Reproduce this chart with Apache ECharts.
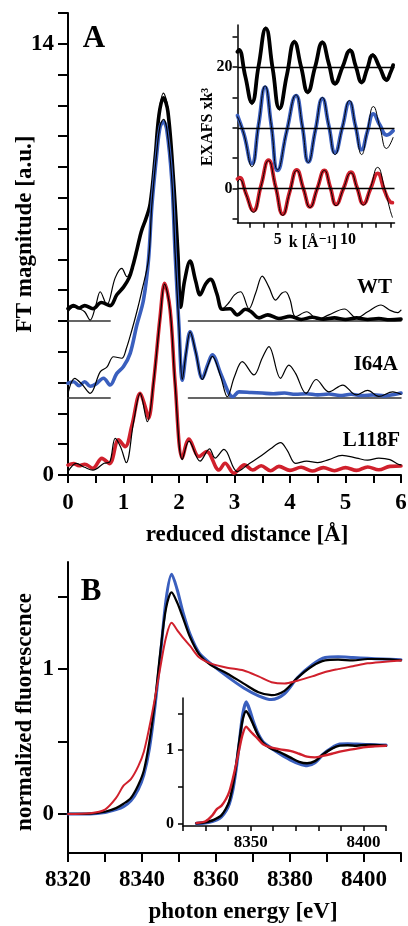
<!DOCTYPE html>
<html><head><meta charset="utf-8">
<script src="https://cdn.jsdelivr.net/npm/echarts@6/dist/echarts.min.js"></script>
<style>html,body{margin:0;padding:0;background:#fff}#c{width:408px;height:926px}</style>
</head><body><div id="c"></div><script>
// ---------- Panel A: FT magnitude vs reduced distance ----------
const ftWtFitR = [0,0.1,0.2,0.3,0.45,0.6,0.76,0.88,1.0,1.1,1.17,1.24,1.32,1.4,1.48,1.57,1.64,1.72,1.8,1.9,1.98,2.03,2.1,2.2,2.3,2.38,2.48,2.57,2.68,2.78,2.92,3.05,3.2,3.3,3.44,3.6,3.8,4.0,4.2,4.4,4.6,4.8,5.0,5.2,5.4,5.6,5.8,6.0];
const ftWtFitV = [5.4,5.5,5.42,5.5,5.4,5.6,5.5,5.85,6.1,6.4,6.8,7.3,7.9,8.3,8.8,10.3,11.7,12.25,11.8,9.6,7.2,5.45,6.3,6.95,6.3,5.85,6.2,6.35,5.9,5.38,5.4,5.2,5.38,5.3,5.1,5.2,5.08,5.15,5.05,5.12,5.06,5.1,5.05,5.1,5.05,5.08,5.04,5.06];
const ftWtExpR = [0,0.1,0.2,0.3,0.4,0.5,0.58,0.7,0.85,0.97,1.06,1.15,1.24,1.32,1.4,1.48,1.57,1.64,1.72,1.8,1.9,1.98,2.03,2.1,2.2,2.3,2.38,2.48,2.57,2.68,2.78,2.9,3.0,3.11,3.26,3.38,3.5,3.62,3.74,3.85,3.92,4.0,4.1,4.3,4.5,4.7,4.98,5.2,5.4,5.64,5.8,5.94,6.0];
const ftWtExpV = [5.3,5.45,5.4,5.3,5.03,5.5,5.95,5.52,6.4,6.71,6.44,6.7,7.3,7.9,8.3,8.9,10.4,11.8,12.4,11.9,9.6,7.2,5.4,6.3,6.95,6.3,5.85,6.2,6.35,5.9,5.4,5.6,5.85,5.95,5.4,5.9,6.46,6.1,5.68,5.9,5.95,5.7,5.14,5.3,5.05,5.2,5.39,5.1,5.3,5.52,5.35,5.27,5.35];
const ftI64aFitR = [0,0.1,0.2,0.3,0.4,0.5,0.64,0.76,0.88,1.0,1.12,1.24,1.36,1.45,1.51,1.6,1.66,1.72,1.78,1.87,1.93,2.0,2.06,2.13,2.2,2.3,2.42,2.52,2.6,2.75,2.9,2.97,3.08,3.3,3.5,3.7,3.9,4.1,4.3,4.5,4.7,4.9,5.1,5.3,5.5,5.7,5.9,6.0];
const ftI64aFitV = [2.98,3.03,2.9,3.03,2.88,2.95,3.14,2.92,3.3,3.52,3.95,4.87,5.68,6.98,8.71,10.44,11.3,11.47,11.2,9.58,7.2,4.8,3.08,4.0,4.65,4.0,3.14,3.6,3.9,3.3,2.65,2.54,2.7,2.68,2.66,2.64,2.66,2.62,2.64,2.6,2.63,2.58,2.62,2.58,2.6,2.57,2.62,2.66];
const ftI64aExpR = [0,0.12,0.25,0.4,0.58,0.7,0.82,0.97,1.05,1.15,1.24,1.32,1.45,1.51,1.6,1.66,1.72,1.78,1.87,1.93,2.0,2.06,2.13,2.2,2.3,2.42,2.52,2.6,2.75,2.87,3.0,3.14,3.35,3.5,3.62,3.83,3.98,4.1,4.29,4.47,4.7,4.95,5.19,5.4,5.6,5.85,6.0];
const ftI64aExpV = [2.65,3.14,2.95,2.65,3.35,3.5,3.84,3.79,4.1,4.7,5.3,5.9,7.0,8.75,10.5,11.35,11.55,11.25,9.6,7.2,4.8,3.1,4.0,4.65,4.0,3.1,3.55,3.85,3.2,2.54,3.2,3.68,3.25,3.8,4.17,3.14,3.57,3.3,2.65,3.1,2.7,2.92,2.6,2.75,2.55,2.7,2.62];
const ftL118fFitR = [0,0.1,0.2,0.3,0.45,0.61,0.75,0.91,1.03,1.15,1.3,1.39,1.45,1.54,1.66,1.74,1.84,1.93,2.06,2.18,2.36,2.5,2.72,2.83,2.99,3.18,3.33,3.48,3.65,3.8,4.0,4.2,4.4,4.6,4.8,5.0,5.2,5.4,5.6,5.8,6.0];
const ftL118fFitV = [0.32,0.37,0.3,0.35,0.22,0.54,0.37,1.14,0.92,1.6,2.65,2.22,1.84,2.98,5.14,6.22,5.36,2.98,0.55,1.17,0.6,0.76,0.16,0.38,0.06,0.33,0.16,0.3,0.14,0.28,0.15,0.25,0.13,0.24,0.14,0.24,0.15,0.26,0.17,0.28,0.29];
const ftL118fExpR = [0,0.15,0.3,0.45,0.65,0.75,0.85,0.95,1.05,1.18,1.3,1.43,1.54,1.66,1.74,1.84,1.93,2.06,2.18,2.38,2.55,2.65,2.81,3.05,3.25,3.46,3.65,3.83,3.95,4.1,4.3,4.5,4.7,4.94,5.2,5.4,5.6,5.8,5.95,6.0];
const ftL118fExpV = [0.11,0.38,0.25,0.16,0.38,0.42,1.19,0.9,0.4,1.7,2.65,1.73,3.0,5.1,6.2,5.35,2.95,0.5,1.1,0.45,0.85,0.55,0.83,0.11,0.35,0.6,0.85,1.05,0.8,0.38,0.45,0.4,0.5,0.64,0.55,0.48,0.55,0.5,0.35,0.33];
const ftBaselineLevels = [5, 2.5];
const ftBaselineSpans = [[0, 0.76], [2.17, 6]];
const ftTickR = [0,0.5,1,1.5,2,2.5,3,3.5,4,4.5,5,5.5,6];
const ftLabelR = [0,1,2,3,4,5,6];
const ftTickV = [0,1,2,3,4,5,6,7,8,9,10,11,12,13,14,15];
const ftLabelV = [0,14];
const ftSampleNames = ['WT','I64A','L118F'];

// ---------- Panel A inset: EXAFS x k^3 ----------
const exWtK = [2.15,2.25,2.7,3.17,3.65,4.16,4.65,5.13,5.66,6.19,6.67,7.14,7.66,8.18,8.63,9.08,9.61,10.14,10.55,10.97,11.36,11.75,12.25,12.74,13.0,13.2];
const exWtFitV = [22.5,22.8,18.5,14.2,20.2,26.3,19.7,13.2,18.7,24.1,20.0,15.9,20.0,24.0,20.6,17.3,20.0,22.7,20.1,17.5,19.7,21.9,19.9,17.9,19.0,20.3];
const exWtExpV = [22.7,23.0,18.5,13.8,20.2,26.6,19.7,12.9,18.7,24.4,20.0,15.6,20.0,24.3,20.6,17.0,20.0,23.0,20.1,17.2,19.7,22.2,19.9,17.6,19.0,20.3];
const exI64aK = [2.15,2.6,3.17,3.64,4.11,4.55,5.0,5.65,6.31,6.75,7.18,7.68,8.18,8.63,9.08,9.59,10.1,10.53,10.97,11.38,11.8,12.27,12.74,13.2];
const exI64aFitV = [12.0,9.0,4.1,10.4,16.7,10.4,3.0,9.5,15.3,10.3,4.4,9.6,14.8,10.4,5.9,10.0,14.2,10.3,6.4,9.4,12.3,10.4,8.8,9.5];
const exI64aExpV = [11.8,9.0,3.6,10.4,16.9,10.4,3.1,9.5,15.4,10.3,4.3,9.6,15.0,10.4,5.6,10.0,14.5,10.3,5.6,9.6,13.5,10.0,6.6,8.4];
const exL118fK = [2.15,2.3,2.75,3.28,3.82,4.35,4.86,5.37,5.86,6.36,6.83,7.3,7.81,8.32,8.74,9.15,9.67,10.2,10.65,11.09,11.6,12.1,12.6,13.0,13.15];
const exL118fFitV = [1.6,1.8,-0.8,-3.6,0.5,4.7,0.3,-4.2,-0.5,3.1,0.0,-3.0,0.0,3.0,0.2,-2.6,0.0,2.7,0.1,-2.5,0.0,2.5,-0.4,-2.2,-2.3];
const exL118fExpV = [1.1,1.5,-0.9,-3.9,0.4,4.6,0.2,-4.4,-0.6,3.0,0.0,-3.1,0.0,3.0,0.1,-2.8,0.0,2.6,0.0,-2.7,0.2,3.5,0.0,-3.6,-4.7];
const exRefLevels = [0, 10, 20];
const exTickK = [3,4,5,6,7,8,9,10,11,12,13];
const exLabelK = [5,10];
const exTickV = [-5,0,5,10,15,20,25];
const exLabelV = [0,20];

// ---------- Panel B: XANES ----------
const xanesE = [8320,8326,8330,8333,8335,8337,8339,8340.5,8342,8343.5,8345,8346.5,8348,8349.5,8351,8353,8355.5,8358.5,8363,8367.5,8371.5,8375,8378.5,8382,8386,8389.5,8393,8397,8401,8405,8410];
const xanesWT   = [0,0.002,0.015,0.04,0.07,0.11,0.2,0.3,0.5,0.78,1.13,1.42,1.53,1.46,1.36,1.22,1.1,1.03,0.97,0.9,0.84,0.82,0.85,0.94,1.02,1.06,1.065,1.06,1.07,1.07,1.06];
const xanesI64A = [0,0,0.01,0.03,0.05,0.09,0.17,0.27,0.45,0.74,1.1,1.48,1.655,1.55,1.4,1.24,1.11,1.04,0.95,0.87,0.816,0.79,0.83,0.94,1.03,1.08,1.085,1.08,1.075,1.07,1.065];
const xanesL118F= [0,0.005,0.03,0.11,0.195,0.24,0.33,0.43,0.6,0.8,1.02,1.22,1.32,1.27,1.22,1.16,1.08,1.04,1.01,0.99,0.95,0.91,0.9,0.92,0.95,0.98,1.0,1.02,1.04,1.05,1.06];
const xanesTickE = [8320,8330,8340,8350,8360,8370,8380,8390,8400,8410];
const xanesLabelE = [8320,8340,8360,8380,8400];
const xanesInsetLabelE = [8350,8400];
const xanesTickV = [0,0.5,1,1.5];
const xanesLabelV = [0,1];
const xanesInsetStartE = 8326;

// ---------- styling ----------
const FF = "'Liberation Serif','DejaVu Serif',serif";
const BLACK = '#000000', BLUE = '#3a5fbe', RED = '#d0202c';

function pts(xs, ys) { const n = Math.min(xs.length, ys.length); const o = []; for (let i = 0; i < n; i++) o.push([xs[i], ys[i]]); return o; }
function line(gi, data, color, width, smooth) {
  return { type: 'line', xAxisIndex: gi, yAxisIndex: gi, data, symbol: 'none', showSymbol: false,
    smooth: smooth == null ? 0.35 : smooth, silent: true, animation: false, emphasis: { disabled: true },
    lineStyle: { color, width, cap: 'round', join: 'round' } };
}
function axis(gi, min, max, ticks, labels, o) {
  return { type: 'value', gridIndex: gi, min, max, scale: false,
    axisLine: { show: true, onZero: false, lineStyle: { color: BLACK, width: o.lw } },
    axisTick: { show: true, inside: false, customValues: ticks, length: o.tl, lineStyle: { color: BLACK, width: o.lw } },
    axisLabel: { show: true, customValues: labels, formatter: v => String(v), fontSize: o.fs, fontWeight: 'bold', fontFamily: FF, color: BLACK, margin: o.m },
    splitLine: { show: false }, minorTick: { show: false } };
}
function txt(x, y, text, fs, rot, align) {
  return { type: 'text', x, y, rotation: rot || 0, silent: true,
    style: { text, fontSize: fs, fontWeight: 'bold', fontFamily: FF, fill: BLACK, align: align || 'center', verticalAlign: 'middle' } };
}

const series = [];
ftBaselineLevels.forEach(lv => ftBaselineSpans.forEach(sp => {
  series.push(line(0, [[sp[0], lv], [sp[1], lv]], '#333', 1.5, false));
}));
series.push(line(0, pts(ftWtFitR, ftWtFitV), BLACK, 3.6));
series.push(line(0, pts(ftWtExpR, ftWtExpV), BLACK, 1.2));
series.push(line(0, pts(ftI64aFitR, ftI64aFitV), BLUE, 3.6));
series.push(line(0, pts(ftI64aExpR, ftI64aExpV), BLACK, 1.2));
series.push(line(0, pts(ftL118fFitR, ftL118fFitV), RED, 3.6));
series.push(line(0, pts(ftL118fExpR, ftL118fExpV), BLACK, 1.2));
const exRef = line(1, [], BLACK, 1);
exRef.markLine = { silent: true, symbol: ['none', 'none'], label: { show: false }, animation: false,
  lineStyle: { color: BLACK, width: 1.3, type: 'solid' }, data: exRefLevels.map(v => ({ yAxis: v })) };
series.push(exRef);
series.push(line(1, pts(exWtK, exWtFitV), BLACK, 3.8, 0.5));
series.push(line(1, pts(exWtK, exWtExpV), BLACK, 1, 0.5));
series.push(line(1, pts(exI64aK, exI64aFitV), BLUE, 3.8, 0.5));
series.push(line(1, pts(exI64aK, exI64aExpV), BLACK, 1, 0.5));
series.push(line(1, pts(exL118fK, exL118fFitV), RED, 3.8, 0.5));
series.push(line(1, pts(exL118fK, exL118fExpV), BLACK, 1, 0.5));
series.push(line(2, pts(xanesE, xanesI64A), BLUE, 3, 0.3));
series.push(line(2, pts(xanesE, xanesWT), BLACK, 2.2, 0.3));
series.push(line(2, pts(xanesE, xanesL118F), RED, 2, 0.3));
const insetIdx = xanesE.map((e, i) => i).filter(i => xanesE[i] >= xanesInsetStartE);
const sub = (arr) => insetIdx.map(i => arr[i]);
series.push(line(3, pts(sub(xanesE), sub(xanesI64A)), BLUE, 3.4, 0.3));
series.push(line(3, pts(sub(xanesE), sub(xanesWT)), BLACK, 2.4, 0.3));
series.push(line(3, pts(sub(xanesE), sub(xanesL118F)), RED, 2.4, 0.3));

const main = { lw: 2, tl: 9, fs: 23, m: 14 };
const ins = { lw: 1.5, tl: 5, fs: 16, m: 7 };

const option = {
  backgroundColor: '#fff', animation: false,
  grid: [
    { left: 68, top: 13, width: 333, height: 462, containLabel: false, outerBoundsMode: 'none' },
    { left: 237.5, top: 25, width: 157, height: 197.7, containLabel: false, outerBoundsMode: 'none' },
    { left: 68, top: 562, width: 333, height: 291, containLabel: false, outerBoundsMode: 'none' },
    { left: 183, top: 698, width: 203, height: 128, containLabel: false, outerBoundsMode: 'none' }
  ],
  xAxis: [
    axis(0, 0, 6, ftTickR, ftLabelR, Object.assign({}, main, { tl: 8, m: 17 })),
    axis(1, 2.15, 13.3, exTickK, exLabelK, Object.assign({}, ins, { m: 9 })),
    axis(2, 8320, 8410, xanesTickE, xanesLabelE, Object.assign({}, main, { tl: 9, m: 16 })),
    axis(3, 8320, 8410, xanesTickE, xanesInsetLabelE, Object.assign({}, ins, { fs: 17, m: 8 }))
  ],
  yAxis: [
    axis(0, 0, 15, ftTickV, ftLabelV, Object.assign({}, main, { tl: 10, m: 14 })),
    axis(1, -5.6, 26.9, exTickV, exLabelV, Object.assign({}, ins, { m: 5 })),
    axis(2, -0.27, 1.74, xanesTickV, xanesLabelV, Object.assign({}, main, { tl: 10, m: 14 })),
    axis(3, -0.035, 1.71, xanesTickV, xanesLabelV, Object.assign({}, ins, { m: 9 }))
  ],
  series,
  graphic: [
    txt(94, 39, 'A', 31),
    txt(392, 288, ftSampleNames[0], 21, 0, 'right'),
    txt(398, 365, ftSampleNames[1], 21, 0, 'right'),
    txt(400, 441, ftSampleNames[2], 21, 0, 'right'),
    txt(25, 234, 'FT magnitude [a.u.]', 23, Math.PI / 2),
    txt(247, 535, 'reduced distance [Å]', 23),
    txt(208, 127, 'EXAFS xk³', 16, Math.PI / 2),
    txt(313, 243, 'k [Å⁻¹]', 16),
    txt(91, 592, 'B', 31),
    txt(25, 712, 'normalized fluorescence', 23, Math.PI / 2),
    txt(243, 912, 'photon energy [eV]', 23)
  ]
};
const chart = echarts.init(document.getElementById('c'), null, { renderer: 'canvas' });
chart.setOption(option);
</script></body></html>
